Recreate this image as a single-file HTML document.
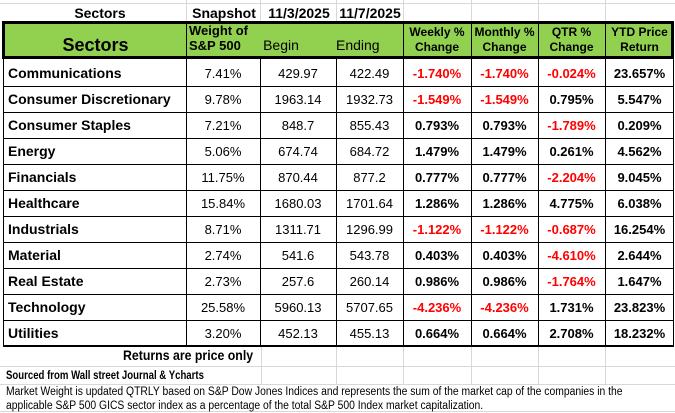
<!DOCTYPE html><html><head><style>
body{margin:0;width:675px;height:413px;background:#fff;position:relative;overflow:hidden;font-family:"Liberation Sans",Arial,sans-serif;}
.a{position:absolute;box-sizing:border-box;}
.c{position:absolute;box-sizing:border-box;display:flex;align-items:center;justify-content:center;font-size:13px;color:#000;}
.r{color:#f00;font-weight:bold}
.b{font-weight:bold}
</style></head><body>
<div class="a" style="left:186px;top:0;width:1px;height:22px;background:#d8d8d8"></div>
<div class="a" style="left:260px;top:0;width:1px;height:22px;background:#d8d8d8"></div>
<div class="a" style="left:336px;top:0;width:1px;height:22px;background:#d8d8d8"></div>
<div class="a" style="left:403px;top:0;width:1px;height:22px;background:#d8d8d8"></div>
<div class="a" style="left:471px;top:0;width:1px;height:22px;background:#d8d8d8"></div>
<div class="a" style="left:538px;top:0;width:1px;height:22px;background:#d8d8d8"></div>
<div class="a" style="left:605px;top:0;width:1px;height:22px;background:#d8d8d8"></div>
<div class="a" style="left:0;top:3px;width:675px;height:1px;background:#d8d8d8"></div>
<div class="c b" style="left:40px;top:3px;width:120px;height:19px;font-size:14px">Sectors</div>
<div class="c b" style="left:186px;top:3px;width:76px;height:19px;font-size:14px">Snapshot</div>
<div class="c b" style="left:260px;top:3px;width:78px;height:19px;font-size:14px">11/3/2025</div>
<div class="c b" style="left:336px;top:3px;width:68px;height:19px;font-size:14px">11/7/2025</div>
<div class="a" style="left:2px;top:21px;width:672px;height:38px;background:#92d050;border:3px solid #000"></div>
<div class="a" style="left:186px;top:24px;width:1px;height:32px;background:#000"></div>
<div class="a" style="left:403px;top:24px;width:1px;height:32px;background:#000"></div>
<div class="a" style="left:471px;top:24px;width:1px;height:32px;background:#000"></div>
<div class="a" style="left:538px;top:24px;width:1px;height:32px;background:#000"></div>
<div class="a" style="left:605px;top:24px;width:1px;height:32px;background:#000"></div>
<div class="c b" style="left:5px;top:34px;width:181px;height:22px;font-size:18px">Sectors</div>
<div class="a b" style="left:189px;top:23px;font-size:13px;line-height:15px">Weight of<br>S&amp;P 500</div>
<div class="c" style="left:260px;top:36px;width:42px;height:18px;font-size:14px">Begin</div>
<div class="c" style="left:336px;top:36px;width:50px;height:18px;font-size:14px;justify-content:flex-start">Ending</div>
<div class="c b" style="left:403px;top:24px;width:68px;height:32px;font-size:12px;line-height:15px;text-align:center">Weekly %<br>Change</div>
<div class="c b" style="left:471px;top:24px;width:67px;height:32px;font-size:12px;line-height:15px;text-align:center">Monthly %<br>Change</div>
<div class="c b" style="left:538px;top:24px;width:67px;height:32px;font-size:12px;line-height:15px;text-align:center">QTR %<br>Change</div>
<div class="c b" style="left:605px;top:24px;width:69px;height:32px;font-size:12px;line-height:15px;text-align:center">YTD Price<br>Return</div>
<div class="a" style="left:3px;top:59px;width:671px;height:288px;border:1px solid #000;border-top:none;border-bottom:2px solid #000"></div>
<div id="rows"></div>
<script>
var d=[["Communications","7.41%","429.97","422.49","-1.740%","-1.740%","-0.024%","23.657%"],
["Consumer Discretionary","9.78%","1963.14","1932.73","-1.549%","-1.549%","0.795%","5.547%"],
["Consumer Staples","7.21%","848.7","855.43","0.793%","0.793%","-1.789%","0.209%"],
["Energy","5.06%","674.74","684.72","1.479%","1.479%","0.261%","4.562%"],
["Financials","11.75%","870.44","877.2","0.777%","0.777%","-2.204%","9.045%"],
["Healthcare","15.84%","1680.03","1701.64","1.286%","1.286%","4.775%","6.038%"],
["Industrials","8.71%","1311.71","1296.99","-1.122%","-1.122%","-0.687%","16.254%"],
["Material","2.74%","541.6","543.78","0.403%","0.403%","-4.610%","2.644%"],
["Real Estate","2.73%","257.6","260.14","0.986%","0.986%","-1.764%","1.647%"],
["Technology","25.58%","5960.13","5707.65","-4.236%","-4.236%","1.731%","23.823%"],
["Utilities","3.20%","452.13","455.13","0.664%","0.664%","2.708%","18.232%"]];
var xs=[4,186,260,336,403,471,538,605,674],h="";
for(var j=1;j<8;j++)h+='<div class="a" style="left:'+xs[j]+'px;top:59px;width:1px;height:287px;background:#000"></div>';
for(var i=0;i<11;i++){var t=60+26*i;
if(i>0)h+='<div class="a" style="left:4px;top:'+t+'px;width:670px;height:1px;background:#000"></div>';
for(var j=0;j<8;j++){var v=d[i][j],cls="c";
if(j==0)cls+=" b";if(j>=4){cls+=" b";if(v[0]=="-")cls+=" r";}
var st=j==0?'justify-content:flex-start;padding-left:4px;font-size:14px;':'';
h+='<div class="'+cls+'" style="'+st+'left:'+xs[j]+'px;top:'+t+'px;width:'+(xs[j+1]-xs[j])+'px;height:26px">'+v+'</div>';}}
document.getElementById("rows").innerHTML=h;
</script>
<div class="a" style="left:0;top:366px;width:675px;height:1px;background:#d8d8d8"></div>
<div class="a" style="left:0;top:384px;width:675px;height:1px;background:#d8d8d8"></div>
<div class="a" style="left:0;top:411px;width:675px;height:1px;background:#d8d8d8"></div>
<div class="a" style="left:261px;top:347px;width:1px;height:37px;background:#d8d8d8"></div>
<div class="a" style="left:336px;top:347px;width:1px;height:37px;background:#d8d8d8"></div>
<div class="a" style="left:403px;top:347px;width:1px;height:37px;background:#d8d8d8"></div>
<div class="a" style="left:471px;top:347px;width:1px;height:37px;background:#d8d8d8"></div>
<div class="a" style="left:538px;top:347px;width:1px;height:37px;background:#d8d8d8"></div>
<div class="a" style="left:605px;top:347px;width:1px;height:37px;background:#d8d8d8"></div>
<div class="a b" style="left:123px;top:345px;font-size:14px;line-height:20px;transform:scaleX(0.88);transform-origin:left;white-space:nowrap">Returns are price only</div>
<div class="a b" style="left:6px;top:367px;font-size:12px;line-height:17px;transform:scaleX(0.8);transform-origin:left;white-space:nowrap">Sourced from Wall street Journal &amp; Ycharts</div>
<div class="a" style="left:6px;top:385px;width:760px;font-size:11.5px;line-height:14px;transform:scaleX(0.9);transform-origin:left;white-space:nowrap">Market Weight is updated QTRLY based on S&amp;P Dow Jones Indices and represents the sum of the market cap of the companies in the<br>applicable S&amp;P 500 GICS sector index as a percentage of the total S&amp;P 500 Index market capitalization.</div>
</body></html>
